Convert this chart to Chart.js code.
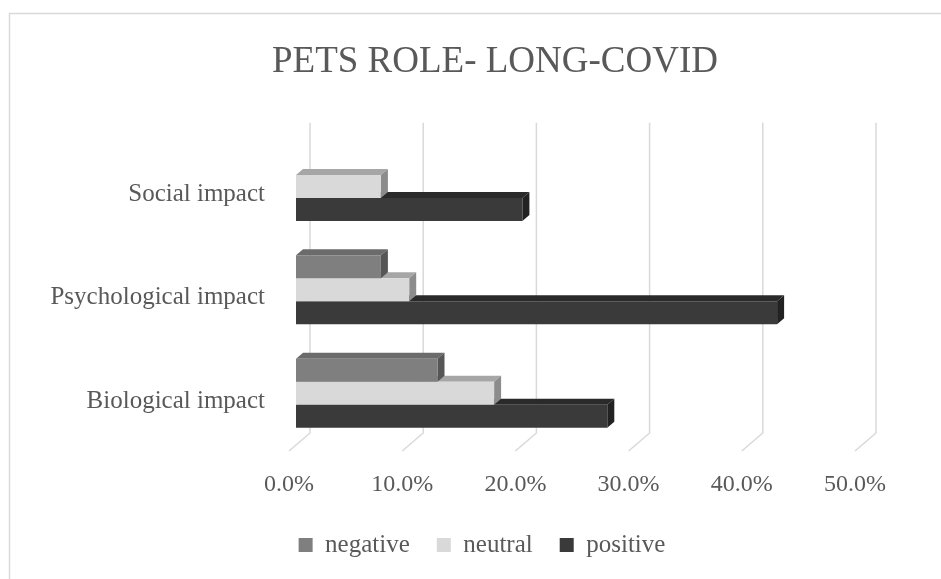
<!DOCTYPE html>
<html>
<head>
<meta charset="utf-8">
<script src="https://cdn.jsdelivr.net/npm/chart.js@4"></script>
<style>
  html, body { margin: 0; padding: 0; background: #fff; }
  #wrap { width: 941px; height: 579px; }
</style>
</head>
<body>
<div id="wrap"><canvas id="chart" width="941" height="579"></canvas></div>
<script>
// Données (en %)
const categories = ['Social impact', 'Psychological impact', 'Biological impact'];
const seriesNames = ['negative', 'neutral', 'positive'];
const negativeValues = [null, 7.5, 12.5];
const neutralValues = [7.5, 10, 17.5];
const positiveValues = [20, 42.5, 27.5];
const xTicks = [0, 10, 20, 30, 40, 50];

// Couleurs : face avant, dessus, côté
const faceColors = ['#7f7f7f', '#d9d9d9', '#3a3a3a'];
const topColors = ['#6b6b6b', '#a6a6a6', '#2a2a2a'];
const sideColors = ['#565656', '#8c8c8c', '#222222'];

const FONT = "'Liberation Serif', 'Times New Roman', serif";
const TEXT = '#595959';
const DX = 7, DY = 6; // profondeur des barres

// Cadre gris autour du graphique
const framePlugin = {
    id: 'frame',
    afterLayout(chart) {
        // recentrer titre et légende comme dans l'original
        if (chart.titleBlock) chart.titleBlock.left = 128;
        if (chart.legend) chart.legend.left = 102;
    },
    beforeDraw(chart) {
        const ctx = chart.ctx;
        ctx.save();
        ctx.fillStyle = '#ffffff';
        ctx.fillRect(0, 0, chart.width, chart.height);
        ctx.strokeStyle = '#d9d9d9';
        ctx.lineWidth = 1.5;
        ctx.strokeRect(9.5, 13.5, chart.width + 20, chart.height + 20);
        ctx.restore();
    }
};

// Grille sur le mur du fond + faces 3D des barres
const threeDPlugin = {
    id: 'threeD',
    beforeDatasetsDraw(chart) {
        const ctx = chart.ctx;
        const xs = chart.scales.x;
        const area = chart.chartArea;
        ctx.save();
        ctx.strokeStyle = '#d9d9d9';
        ctx.lineWidth = 1.5;
        xTicks.forEach(v => {
            const px = xs.getPixelForValue(v);
            ctx.beginPath();
            ctx.moveTo(px + 2 * DX, area.top - 2 * DY);
            ctx.lineTo(px + 2 * DX, area.bottom - 2 * DY);
            ctx.lineTo(px - DX, area.bottom + DY);
            ctx.stroke();
        });

        // du bas vers le haut pour que la face avant du dessus recouvre
        for (let d = chart.data.datasets.length - 1; d >= 0; d--) {
            const meta = chart.getDatasetMeta(d);
            meta.data.forEach((bar, i) => {
                if (chart.data.datasets[d].data[i] == null) return;
                const p = bar.getProps(['x', 'y', 'base', 'height'], true);
                const top = p.y - p.height / 2;
                const bottom = p.y + p.height / 2;
                ctx.fillStyle = topColors[d];
                ctx.beginPath();
                ctx.moveTo(p.base, top);
                ctx.lineTo(p.base + DX, top - DY);
                ctx.lineTo(p.x + DX, top - DY);
                ctx.lineTo(p.x, top);
                ctx.closePath();
                ctx.fill();
                ctx.fillStyle = sideColors[d];
                ctx.beginPath();
                ctx.moveTo(p.x, top);
                ctx.lineTo(p.x + DX, top - DY);
                ctx.lineTo(p.x + DX, bottom - DY);
                ctx.lineTo(p.x, bottom);
                ctx.closePath();
                ctx.fill();
            });
        }
        ctx.restore();
    }
};

const ctx = document.getElementById('chart').getContext('2d');
new Chart(ctx, {
    type: 'bar',
    data: {
        labels: categories,
        datasets: [
            { label: seriesNames[0], data: negativeValues, backgroundColor: faceColors[0] },
            { label: seriesNames[1], data: neutralValues, backgroundColor: faceColors[1] },
            { label: seriesNames[2], data: positiveValues, backgroundColor: faceColors[2] }
        ]
    },
    options: {
        indexAxis: 'y',
        responsive: false,
        animation: false,
        layout: { padding: { top: 0, right: 79, bottom: 11.5, left: 0 } },
        datasets: {
            bar: { categoryPercentage: 0.667, barPercentage: 1.0, borderWidth: 0 }
        },
        plugins: {
            title: {
                display: true,
                text: 'PETS ROLE- LONG-COVID',
                color: TEXT,
                font: { family: FONT, size: 37, weight: 'normal', lineHeight: 1.1 },
                padding: { top: 41.5, bottom: 52.5 }
            },
            legend: {
                position: 'bottom',
                labels: {
                    color: TEXT,
                    font: { family: FONT, size: 25 },
                    boxWidth: 14,
                    boxHeight: 14,
                    padding: 27
                }
            },
            tooltip: { enabled: false }
        },
        scales: {
            x: {
                min: 0,
                max: 50,
                grid: { display: false },
                border: { display: false },
                ticks: {
                    stepSize: 10,
                    color: TEXT,
                    font: { family: FONT, size: 24 },
                    labelOffset: -7,
                    padding: 17,
                    maxRotation: 0,
                    callback: v => v.toFixed(1) + '%'
                },
                afterFit(scale) { scale.height = 60.5; }
            },
            y: {
                grid: { display: false, drawTicks: false },
                border: { display: false },
                ticks: {
                    color: TEXT,
                    font: { family: FONT, size: 25 },
                    padding: 31,
                    labelOffset: 8
                },
                afterFit(scale) { scale.width = 296; }
            }
        }
    },
    plugins: [framePlugin, threeDPlugin]
});
</script>
</body>
</html>
